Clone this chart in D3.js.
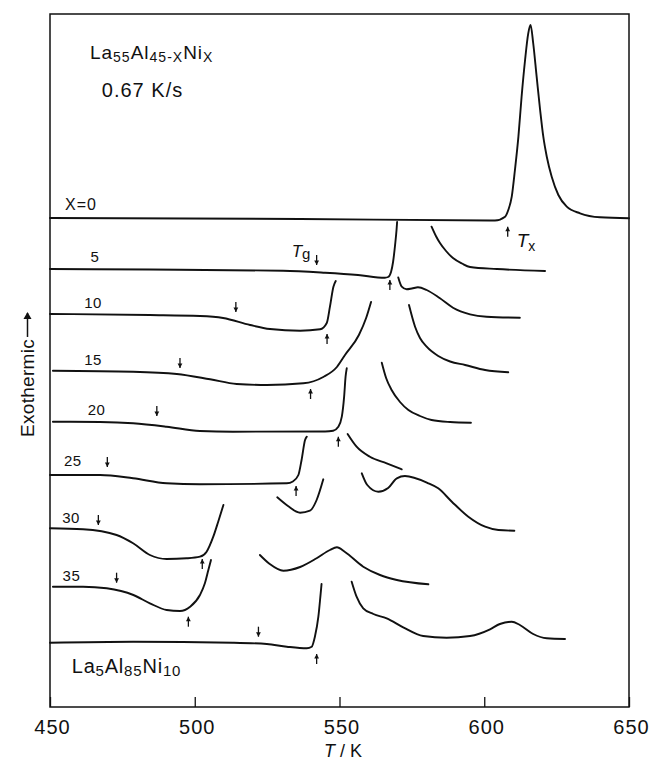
<!DOCTYPE html>
<html>
<head>
<meta charset="utf-8">
<script src="https://cdn.jsdelivr.net/npm/d3@7"></script>
<style>
  body { margin: 0; background: #fff; }
  svg { display: block; font-family: "Liberation Sans", Arial, sans-serif; }
  .trace { fill: none; stroke: #111; stroke-width: 1.9; stroke-linejoin: round; stroke-linecap: round; }
  .frame { fill: none; stroke: #111; stroke-width: 1.5; }
</style>
</head>
<body>
<div id="chart"></div>
<script>
(function () {
  'use strict';

  // temperature ticks (K)
  var tTicks = [450, 500, 550, 600, 650];

  // DSC traces, [T (K), signal (a.u.)], one array of segments per alloy
  var curveX0 = [[
    [450, 489], [536.4, 488], [603.7, 486.5], [607.2, 490.3], [608.3, 497], [609.5, 510.3],
    [610.6, 537], [611.8, 570.3], [612.9, 610.3], [614.1, 647], [615.2, 673.7], [616.0, 682],
    [616.9, 664], [618.1, 630.3], [619.3, 597], [620.4, 570.3], [621.6, 550.3], [623.3, 530.3],
    [625.6, 512], [628.5, 500.3], [633.1, 493.7], [640.0, 489.7], [650, 488.7]
  ]];
  var curveX5 = [[
    [450, 438], [484.5, 437.5], [530.5, 436.3], [545, 434.3], [556.4, 432], [565.7, 429.3],
    [566.8, 430], [567.8, 435], [568.5, 445], [569.2, 462], [569.7, 477], [569.9, 485]
  ], [
    [581.8, 480.3], [583.3, 471], [584.7, 464], [586.8, 456], [589.2, 449], [592.3, 443.5],
    [595.1, 440], [604.4, 438], [621.0, 436]
  ]];
  var curveX10 = [[
    [450, 393], [484.5, 392], [501.8, 391], [509.8, 389], [519.1, 382], [526, 378],
    [536.4, 376.3], [543.3, 377.7], [545.6, 384], [546.7, 400.3], [547.9, 420.3], [548.7, 426]
  ], [
    [570.3, 429.5], [571.5, 420.3], [573.2, 417.7], [575.0, 418.5], [577.1, 419.7], [580.1, 417],
    [584.7, 408.7], [589.2, 399.3], [595.1, 392.7], [600.8, 390.3], [612.3, 389.3]
  ]];
  var curveX15 = [[
    [451, 336.3], [478.7, 335.3], [493.8, 333], [505.3, 327.7], [514.5, 323], [524.9, 322],
    [537.5, 323.7], [544.4, 330], [549.1, 340], [551.9, 352], [556.7, 372], [559.2, 389], [560.9, 405]
  ], [
    [574, 402], [576.1, 380.3], [577.8, 369], [580.1, 360.3], [584.1, 351], [588.2, 345.5],
    [593.4, 342], [600.3, 337], [608.3, 334.7]
  ]];
  var curveX20 = [[
    [451, 285.3], [467.3, 285], [478.7, 283.7], [490.3, 280.3], [501.8, 276], [513.2, 275.3],
    [545, 275.5], [547.8, 276.3], [549.6, 280.3], [550.8, 290.3], [551.6, 310.3], [552.1, 330.3], [552.5, 338.7]
  ], [
    [564.6, 344.3], [566.1, 329], [568.0, 317], [570.9, 305], [573.8, 297], [577.8, 291],
    [581.8, 287], [588.2, 285], [595.4, 284.3]
  ]];
  var curveX25 = [[
    [450, 232], [467.3, 232], [478.7, 228.7], [490.3, 223.7], [501.8, 222.7], [531.8, 223.7],
    [533.9, 225.5], [535.8, 232], [536.9, 247], [538.1, 267], [538.7, 270.3]
  ], [
    [552.8, 273], [555.9, 260.3], [560.5, 250.3], [566.3, 243.7], [571.5, 237.7]
  ]];
  var curveX30 = [[
    [450, 178.7], [461.4, 177.7], [473, 172], [478.7, 163.7], [484.5, 152], [490.3, 148],
    [497.2, 148.7], [501.8, 150.3], [504.1, 155.3], [506.4, 170.3], [508.1, 185.3], [509.9, 202]
  ], [
    [528.5, 209.7], [532.2, 201], [536.4, 194.3], [539.8, 196.3], [542.1, 207], [544.4, 227.7]
  ], [
    [557.7, 233.7], [559.6, 222], [563.4, 215.3], [566.8, 219], [569.8, 228.7], [572.6, 231],
    [580.7, 223.7], [584.1, 218.7], [588.8, 205.3], [594.5, 190.3], [600.3, 180.3], [604.9, 177], [610.4, 176.3]
  ]];
  var curveX35 = [[
    [451, 120.3], [461.4, 120.3], [469.6, 118.7], [478.8, 112], [484.5, 103.7], [490.3, 97],
    [494.9, 96], [498.4, 100.3], [501.8, 112], [503.5, 123.7], [504.7, 137], [505.6, 147]
  ], [
    [522.5, 152], [525.9, 143], [530.6, 136.3], [536.4, 140], [542.1, 148.7], [546.7, 157],
    [549.1, 159.7], [551.9, 155], [558.2, 140.3], [564.0, 132], [569.8, 127], [580.7, 122.7]
  ]];
  var curveLa5 = [[
    [450, 64.3], [478.7, 65.3], [513.2, 64.3], [524.9, 63], [531.8, 60.3], [538.7, 58.7],
    [540.4, 60.3], [541.5, 70.3], [542.7, 90.3], [543.5, 113.7], [543.8, 123]
  ], [
    [554.2, 125.3], [555.9, 110.3], [558.2, 98.7], [561.7, 93], [566.3, 88.7], [572.0, 79.7],
    [578.9, 71], [587.0, 69.3], [595.1, 71], [602, 77.7], [605.4, 83], [609.5, 85.3],
    [612.3, 82], [616.9, 73], [621.6, 68.7], [627.9, 68]
  ]];

  var curves = [curveX0, curveX5, curveX10, curveX15, curveX20, curveX25, curveX30, curveX35, curveLa5];

  // glass transition (down) and crystallization (up) arrows: [T, signal at tip]
  var tgArrows = [[542.1, 442], [514.2, 395], [494.9, 339], [486.9, 291], [469.8, 240],
    [466.7, 182], [473, 124.3], [522, 70.3]];
  var txArrows = [[608.1, 480.3], [567.4, 427], [545.7, 373], [540, 318], [549.6, 270.3],
    [535, 221], [502.6, 148], [497.8, 90.3], [542.1, 53]];

  // Ni content labels: [text, T, signal]
  var xLabels = [['X=0', 455.2, 497], ['5', 465.5, 445], ['10', 464.9, 399], ['15', 464.9, 342],
    ['20', 466.1, 292], ['25', 457.9, 241.3], ['30', 457.3, 184], ['35', 457.4, 126.3]];

  var margin = {top: 14, right: 21, bottom: 58, left: 50};
  var width = 650 - margin.left - margin.right;
  var height = 765 - margin.top - margin.bottom;

  var svg = d3.select('#chart').append('svg')
    .attr('width', 650)
    .attr('height', 765);
  var g = svg.append('g')
    .attr('transform', 'translate(' + margin.left + ',' + margin.top + ')');

  var x = d3.scaleLinear().domain([450, 650]).range([0, width]);
  var y = d3.scaleLinear().domain([0, 693]).range([height, 0]);

  var line = d3.line()
    .x(function (d) { return x(d[0]); })
    .y(function (d) { return y(d[1]); })
    .curve(d3.curveMonotoneX);

  // bottom axis, ticks pointing inward
  var xAxis = g.append('g')
    .attr('transform', 'translate(0,' + height + ')')
    .call(d3.axisBottom(x).tickValues(tTicks).tickSizeInner(-10).tickSizeOuter(0).tickPadding(13)
      .tickFormat(d3.format('d')));
  xAxis.select('.domain').remove();
  xAxis.selectAll('line').attr('stroke', '#111').attr('stroke-width', 1.3);
  xAxis.selectAll('text')
    .attr('dx', 2)
    .style('font-size', '20px')
    .style('letter-spacing', '1px')
    .style('font-family', '"Liberation Sans", Arial, sans-serif')
    .attr('fill', '#111');

  g.append('rect').attr('class', 'frame')
    .attr('x', 0).attr('y', 0).attr('width', width).attr('height', height);

  // traces
  curves.forEach(function (segs) {
    segs.forEach(function (seg) {
      g.append('path').attr('class', 'trace').attr('d', line(seg));
    });
  });

  // small arrows
  function arrow(t, v, dir) {
    var px = x(t), py = y(v);
    var len = 10 * dir; // dir 1 = pointing down, -1 = pointing up
    g.append('line')
      .attr('x1', px).attr('x2', px)
      .attr('y1', py - len).attr('y2', py)
      .attr('stroke', '#111').attr('stroke-width', 1.3);
    g.append('path')
      .attr('d', 'M' + (px - 2.4) + ',' + (py - 4.5 * dir) + 'L' + px + ',' + py + 'L' + (px + 2.4) + ',' + (py - 4.5 * dir) + 'Z')
      .attr('fill', '#111');
  }
  tgArrows.forEach(function (a) { arrow(a[0], a[1], 1); });
  txArrows.forEach(function (a) { arrow(a[0], a[1], -1); });

  // curve labels
  g.selectAll('.xlab').data(xLabels).enter().append('text')
    .attr('class', 'xlab')
    .attr('x', function (d) { return x(d[1]); })
    .attr('y', function (d) { return y(d[2]); })
    .attr('text-anchor', function (d, i) { return i === 0 ? 'start' : 'middle'; })
    .style('font-size', function (d, i) { return i === 0 ? '16px' : '15px'; })
    .style('letter-spacing', function (d, i) { return i === 0 ? '1px' : '0.5px'; })
    .attr('fill', '#111')
    .text(function (d) { return d[0]; });

  // text with subscripts
  function subText(t, v, parts, size, spacing) {
    var txt = g.append('text')
      .attr('x', x(t)).attr('y', y(v))
      .style('font-size', size + 'px')
      .style('letter-spacing', spacing + 'px')
      .attr('fill', '#111');
    var low = false;
    parts.forEach(function (p) {
      var sub = p[1];
      var ts = txt.append('tspan').text(p[0]);
      if (sub) {
        ts.style('font-size', Math.round(size * 0.75) + 'px');
        if (!low) ts.attr('dy', 3);
        low = true;
      } else {
        if (low) ts.attr('dy', -3);
        low = false;
      }
    });
    return txt;
  }

  subText(463.8, 647.7, [['La', 0], ['55', 1], ['Al', 0], ['45-X', 1], ['Ni', 0], ['X', 1]], 19, 1);
  g.append('text')
    .attr('x', x(467.9)).attr('y', y(610.3))
    .style('font-size', '20px')
    .style('letter-spacing', '1px')
    .attr('fill', '#111')
    .text('0.67 K/s');
  subText(457.5, 34, [['La', 0], ['5', 1], ['Al', 0], ['85', 1], ['Ni', 0], ['10', 1]], 20, 0.8);

  // Tg and Tx markers
  var tg = g.append('text').attr('x', x(533.5)).attr('y', y(450.3))
    .style('font-size', '17px').attr('fill', '#111');
  tg.append('tspan').style('font-style', 'italic').text('T');
  tg.append('tspan').attr('dy', 2).style('font-size', '15px').text('g');
  var tx = g.append('text').attr('x', x(611.2)).attr('y', y(460.3))
    .style('font-size', '19px').attr('fill', '#111');
  tx.append('tspan').style('font-style', 'italic').text('T');
  tx.append('tspan').attr('dy', 4).style('font-size', '14px').text('x');

  // axis titles
  var xt = svg.append('text')
    .attr('x', 343).attr('y', 757)
    .attr('text-anchor', 'middle')
    .style('font-size', '18px')
    .attr('fill', '#111');
  xt.append('tspan').style('font-style', 'italic').text('T');
  xt.append('tspan').text(' / K');

  var yt = svg.append('g').attr('transform', 'translate(34,437) rotate(-90)');
  var ytxt = yt.append('text')
    .style('font-size', '19px')
    .style('letter-spacing', '0.3px')
    .attr('fill', '#111')
    .text('Exothermic');
  var tl = ytxt.node().getComputedTextLength();
  // long arrow after the word
  yt.append('line')
    .attr('x1', tl + 2).attr('x2', 124)
    .attr('y1', -6.5).attr('y2', -6.5)
    .attr('stroke', '#111').attr('stroke-width', 1.5);
  yt.append('path')
    .attr('d', 'M125,-6.5L118,-10.5L118,-2.5Z')
    .attr('fill', '#111');
})();
</script>
</body>
</html>
